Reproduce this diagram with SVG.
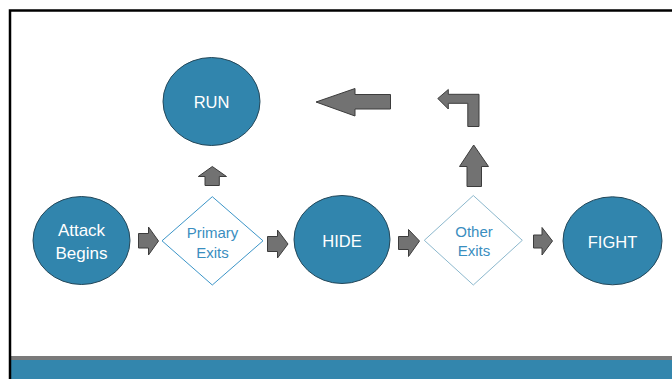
<svg xmlns="http://www.w3.org/2000/svg" width="672" height="379" viewBox="0 0 672 379">
<style>
.node{fill:#3185AD;stroke:#24485A;stroke-width:1}
.ntxt{font-family:"Liberation Sans",Arial,sans-serif;font-size:16.5px;fill:#FFFFFF;text-anchor:middle}
.dtxt{font-family:"Liberation Sans",Arial,sans-serif;font-size:15px;fill:#3A8EBF;text-anchor:middle}
.arr{fill:#727272;stroke:#3C3C3C;stroke-width:1;stroke-linejoin:miter}
</style>
<rect x="0" y="0" width="672" height="379" fill="#FFFFFF"/>
<rect x="11" y="356" width="661" height="4" fill="#7A7A7A"/>
<rect x="11" y="360" width="661" height="19" fill="#3386AD"/>
<path d="M10 379 V10.5 H672" fill="none" stroke="#000000" stroke-width="2.5"/>

<g id="connectors">
<polygon class="arr" points="138.5,233.5 148.5,233.5 148.5,227 158.5,241 148.5,255 148.5,248 138.5,248"/>
<polygon class="arr" points="267.5,236.5 277.5,236.5 277.5,230 288,244 277.5,258 277.5,251.5 267.5,251.5"/>
<polygon class="arr" points="398.5,236.5 408.5,236.5 408.5,229.5 419.5,241 408.5,256.5 408.5,249.5 398.5,249.5"/>
<polygon class="arr" points="533.5,235 542,235 542,227.5 552.5,241 542,255 542,248 533.5,248"/>
<polygon class="arr" points="212.3,166.5 226.5,176.5 219.3,176.5 219.3,185.5 205,185.5 205,176.5 198.3,176.5"/>
<polygon class="arr" points="473.7,145 488.5,166.5 481.5,166.5 481.5,186.5 467,186.5 467,166.5 459.5,166.5"/>
<polygon class="arr" points="316,102 355,88.5 355,94.5 390.5,94.5 390.5,109 355,109 355,116"/>
<polygon class="arr" points="437.8,98.5 448.3,89.5 448.3,94.3 479,94.3 479,126.5 467.8,126.5 467.8,103.3 448.3,103.3 448.3,109"/>
</g>

<g id="run">
<ellipse class="node" cx="211.5" cy="101.5" rx="48.5" ry="44"/>
<text class="ntxt" x="211.5" y="108">RUN</text>
</g>
<g id="attack">
<ellipse class="node" cx="81.5" cy="240.5" rx="48.5" ry="44"/>
<text class="ntxt" x="81.5" y="235.5" style="font-size:17px">Attack</text>
<text class="ntxt" x="81.5" y="258.5" style="font-size:17px">Begins</text>
</g>
<g id="primary">
<polygon points="212.3,196.7 263,240.8 212.3,285 162,240.8" fill="#FFFFFF" stroke="#3C95C8" stroke-width="1"/>
<text class="dtxt" x="212.5" y="237.5">Primary</text>
<text class="dtxt" x="212.5" y="257.5">Exits</text>
</g>
<g id="hide">
<ellipse class="node" cx="342" cy="239.5" rx="48" ry="44"/>
<text class="ntxt" x="342" y="246.5">HIDE</text>
</g>
<g id="other">
<polygon points="473.3,195.5 522.3,240.3 473.3,285 424.3,240.3" fill="#FFFFFF" stroke="#8CB8CD" stroke-width="1"/>
<text class="dtxt" x="474" y="236.7">Other</text>
<text class="dtxt" x="474" y="255.7">Exits</text>
</g>
<g id="fight">
<ellipse class="node" cx="612.5" cy="240.8" rx="49.5" ry="44"/>
<text class="ntxt" x="612.5" y="247.5">FIGHT</text>
</g>
</svg>
